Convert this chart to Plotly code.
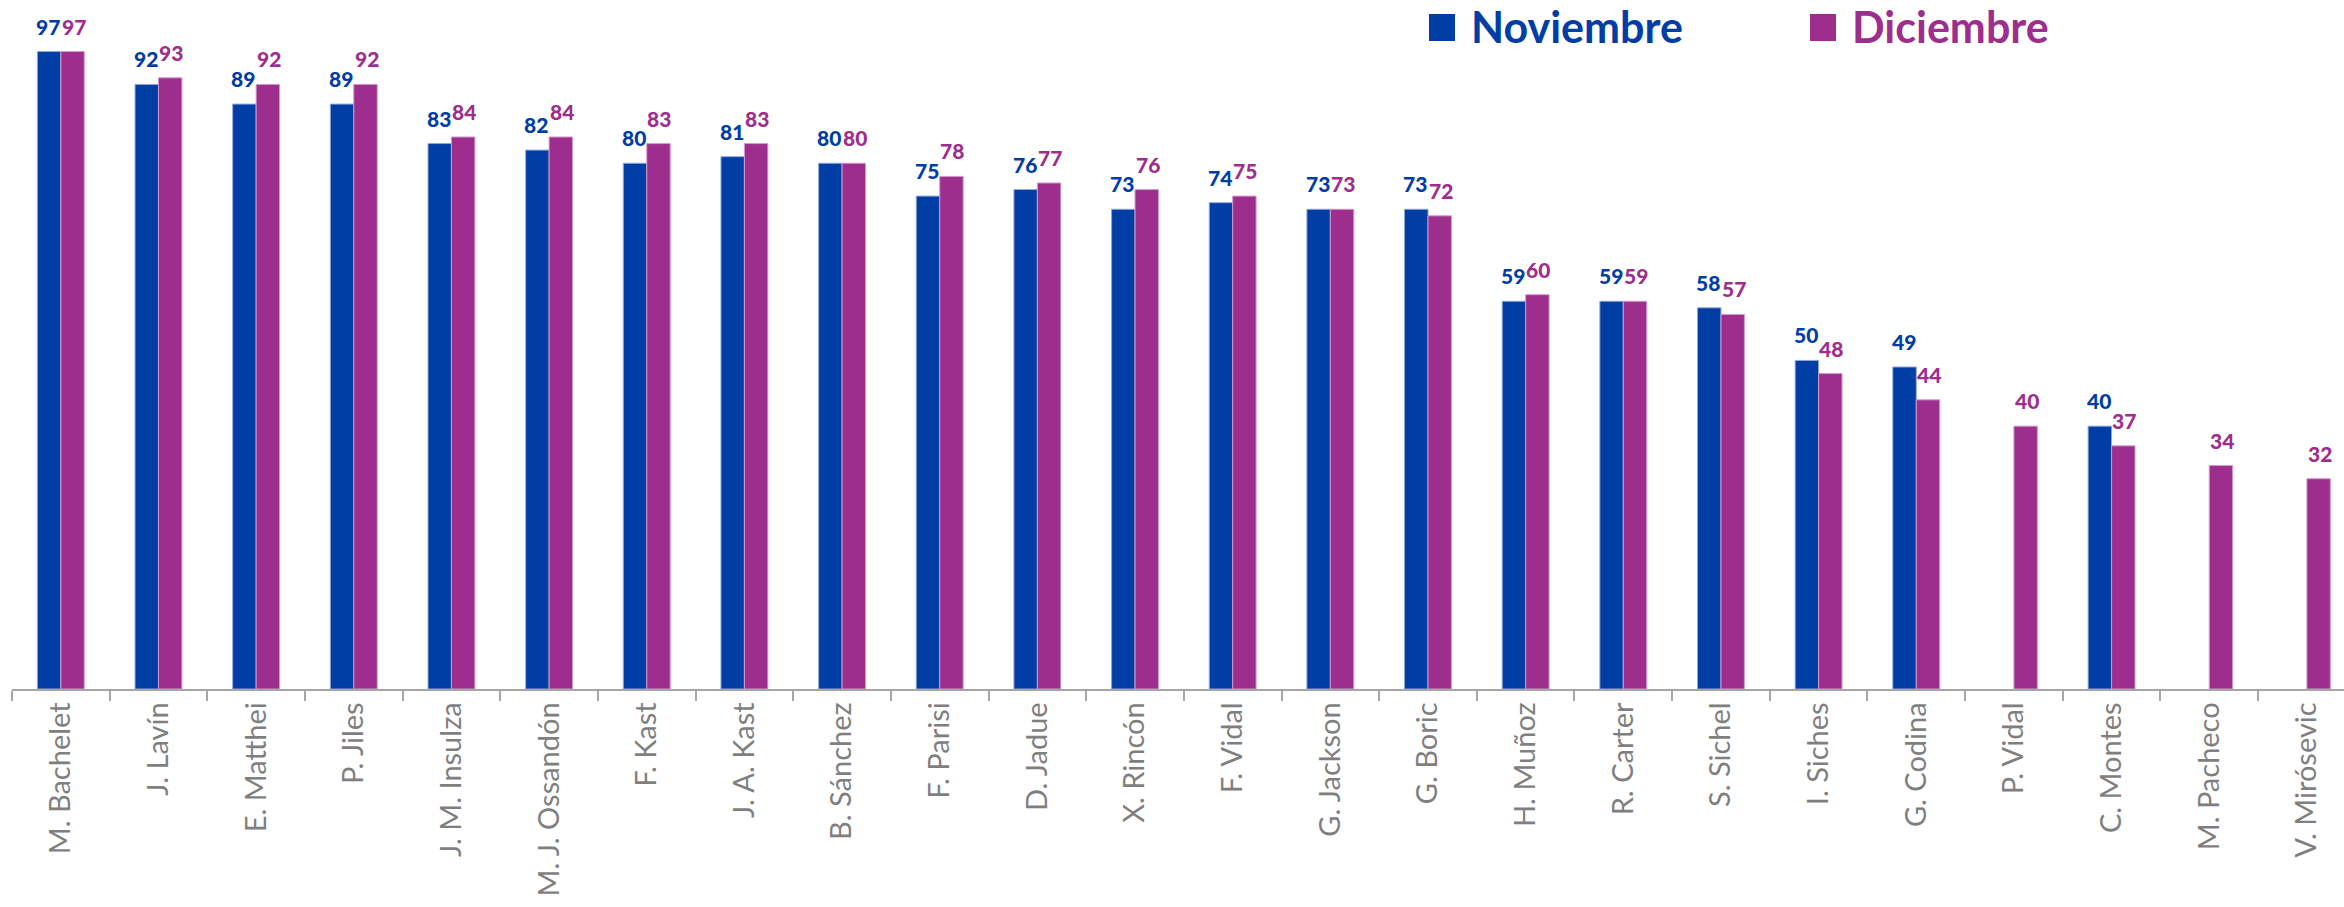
import plotly.graph_objects as go

# Data
candidatos = [
    "M. Bachelet", "J. Lavín", "E. Matthei", "P. Jiles", "J. M. Insulza",
    "M. J. Ossandón", "F. Kast", "J. A. Kast", "B. Sánchez", "F. Parisi",
    "D. Jadue", "X. Rincón", "F. Vidal", "G. Jackson", "G. Boric",
    "H. Muñoz", "R. Carter", "S. Sichel", "I. Siches", "G. Codina",
    "P. Vidal", "C. Montes", "M. Pacheco", "V. Mirósevic",
]
noviembre = [97, 92, 89, 89, 83, 82, 80, 81, 80, 75, 76, 73, 74, 73, 73,
             59, 59, 58, 50, 49, None, 40, None, None]
diciembre = [97, 93, 92, 92, 84, 84, 83, 83, 80, 78, 77, 76, 75, 73, 72,
             60, 59, 57, 48, 44, 40, 37, 34, 32]

AZUL = "#003DA5"
MORADO = "#9E2E8E"
GRIS = "#7F7F7F"
FUENTE = "Lato"   # closest installed match to Calibri

W, H = 2344, 907
M_L, M_R, M_T, M_B = 12, 0, 20, 218
BARGAP = 0.52
X_MAX = 23.38      # last category is cut by the right edge in the original
Y_MAX = 101.8


def px_x(x):
    """pixel x -> paper x"""
    return (x - M_L) / (W - M_L - M_R)


def px_y(y):
    """pixel y (from top) -> paper y"""
    return (H - M_B - y) / (H - M_T - M_B)


fig = go.Figure()

fig.add_trace(go.Bar(
    x=candidatos, y=noviembre, name="Noviembre",
    marker=dict(color=AZUL, line=dict(color="#8FA6D6", width=1)),
))
fig.add_trace(go.Bar(
    x=candidatos, y=diciembre, name="Diciembre",
    marker=dict(color=MORADO, line=dict(color="#D29BCB", width=1)),
))

# data labels sit a bit above each bar, as in the Excel original
cat_px = (W - M_L - M_R) / (X_MAX + 0.5)
half_bar = (1 - BARGAP) / 2 * cat_px / 2
for serie, color, shift in [(noviembre, AZUL, -half_bar - 1), (diciembre, MORADO, half_bar + 1)]:
    for cand, val in zip(candidatos, serie):
        if val is None:
            continue
        fig.add_annotation(x=cand, y=val, text=str(val), showarrow=False,
                           xshift=shift, yshift=12, yanchor="bottom", borderpad=0,
                           font=dict(family=FUENTE, size=21, color=color, weight=900))

# legend drawn as coloured squares + bold text, like the original
legend_items = [("Noviembre", AZUL, 1429), ("Diciembre", MORADO, 1810)]
for label, color, x0 in legend_items:
    fig.add_shape(type="rect", xref="paper", yref="paper",
                  x0=px_x(x0), x1=px_x(x0 + 26), y0=px_y(41), y1=px_y(14),
                  fillcolor=color, line=dict(width=0))
    fig.add_annotation(xref="paper", yref="paper", x=px_x(x0 + 40), y=px_y(26),
                       text=label, showarrow=False, xanchor="left", yanchor="middle",
                       font=dict(family=FUENTE, size=43, color=color, weight="bold"))

fig.update_layout(
    width=W, height=H,
    margin=dict(l=M_L, r=M_R, t=M_T, b=M_B, autoexpand=False),
    barmode="group", bargap=BARGAP, bargroupgap=0,
    showlegend=False,
    plot_bgcolor="white", paper_bgcolor="white",
)
fig.update_xaxes(
    range=[-0.5, X_MAX], automargin=False,
    showline=True, linecolor="#A6A6A6", linewidth=1.5,
    ticks="outside", tickson="boundaries", ticklen=10, tickcolor="#A6A6A6", tickwidth=1.5,
    tickangle=-90, tickfont=dict(family=FUENTE, size=29, color=GRIS),
    showgrid=False,
)
fig.update_yaxes(visible=False, range=[0, Y_MAX], showgrid=False, automargin=False)

# drop the browser's default 8px body margin so the figure fills the window
fig.write_html("out.html", config={"displayModeBar": False},
               post_script="document.body.style.margin = '0';")
